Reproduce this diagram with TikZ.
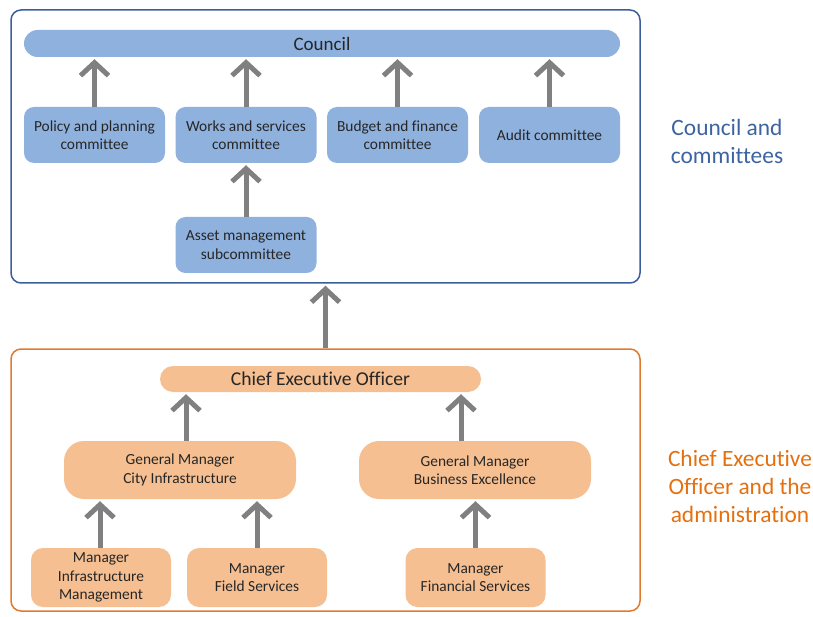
\documentclass[tikz,border=0pt]{standalone}
\usepackage{fontspec}
\setmainfont[Ligatures=NoCommon]{Carlito}
\usetikzlibrary{arrows.meta}
\definecolor{bluefill}{HTML}{8FB1DD}
\definecolor{blueframe}{HTML}{3A5F9A}
\definecolor{bluelabel}{HTML}{3C64A0}
\definecolor{orangefill}{HTML}{F5BF91}
\definecolor{orangeframe}{HTML}{E07A30}
\definecolor{orangelabel}{HTML}{E4700F}
\definecolor{arrowgray}{HTML}{808080}
\definecolor{textgray}{HTML}{262626}
\begin{document}
\begin{tikzpicture}[x=1pt,y=-1pt,
  box/.style={rectangle,inner sep=0pt,align=center,text=textgray,font=\fontsize{15.4}{18.5}\selectfont},
  bluebox/.style={box,fill=bluefill,minimum width=141pt,minimum height=56pt,rounded corners=10pt},
  orangebox/.style={box,fill=orangefill,minimum width=140pt,minimum height=59pt,rounded corners=12pt},
  gmbox/.style={box,fill=orangefill,minimum width=232pt,minimum height=58pt,rounded corners=20pt},
  frame/.style={rectangle,inner sep=0pt,line width=1.5pt,rounded corners=10pt},
  uparrow/.style={draw=arrowgray,line width=5pt,shorten >=2pt,
    -{Straight Barb[length=13pt,width=28pt]}},
  sidelabel/.style={align=center,font=\fontsize{23.4}{28}\selectfont}]
\useasboundingbox (0,0) rectangle (813,617);

% frames
\node[frame,draw=blueframe,minimum width=629pt,minimum height=273pt] (councilframe) at (325.5,146.5) {};
\node[frame,draw=orangeframe,minimum width=629pt,minimum height=262pt] (adminframe) at (325.5,480) {};

% council and committees
\node[box,fill=bluefill,minimum width=596pt,minimum height=27pt,rounded corners=13.5pt,
      font=\fontsize{19}{20}\selectfont] (council) at (322,43.5) {Council};
\node[bluebox] (policy) at (94.5,135) {Policy and planning\\committee};
\node[bluebox] (works) at (246,135) {Works and services\\committee};
\node[bluebox] (budget) at (397.5,135) {Budget and finance\\committee};
\node[bluebox] (audit) at (549.5,135) {Audit committee};
\node[bluebox] (asset) at (246,245) {Asset management\\subcommittee};

% administration
\node[box,fill=orangefill,minimum width=321pt,minimum height=26pt,rounded corners=13pt,
      font=\fontsize{19.6}{20}\selectfont] (ceo) at (320.5,379) {Chief Executive Officer};
\node[gmbox] (gmci) at (180,470) {General Manager\\City Infrastructure};
\node[gmbox] (gmbe) at (475,470) {General Manager\\Business Excellence};
\node[orangebox] (mim) at (101,577.5) {Manager\\Infrastructure\\Management};
\node[orangebox] (mfs) at (257,577.5) {Manager\\Field Services};
\node[orangebox] (mfin) at (475.5,577.5) {Manager\\Financial Services};

% reporting lines
\draw[uparrow] (policy.north) -- (policy.north |- council.south);
\draw[uparrow] (works.north) -- (works.north |- council.south);
\draw[uparrow] (budget.north) -- (budget.north |- council.south);
\draw[uparrow] (audit.north) -- (audit.north |- council.south);
\draw[uparrow] (asset.north) -- (works.south);
\draw[uparrow] (adminframe.north) -- (councilframe.south);
\draw[uparrow] (gmci.north -| 186,0) -- (186,0 |- ceo.south);
\draw[uparrow] (gmbe.north -| 461,0) -- (461,0 |- ceo.south);
\draw[uparrow] (mim.north -| 100,0) -- (100,0 |- gmci.south);
\draw[uparrow] (mfs.north) -- (mfs.north |- gmci.south);
\draw[uparrow] (mfin.north) -- (mfin.north |- gmbe.south);

% side labels
\node[sidelabel,text=bluelabel] (councillabel) at (727,141) {Council and\\committees};
\node[sidelabel,text=orangelabel] (adminlabel) at (740,486) {Chief Executive\\Officer and the\\administration};
\end{tikzpicture}
\end{document}
